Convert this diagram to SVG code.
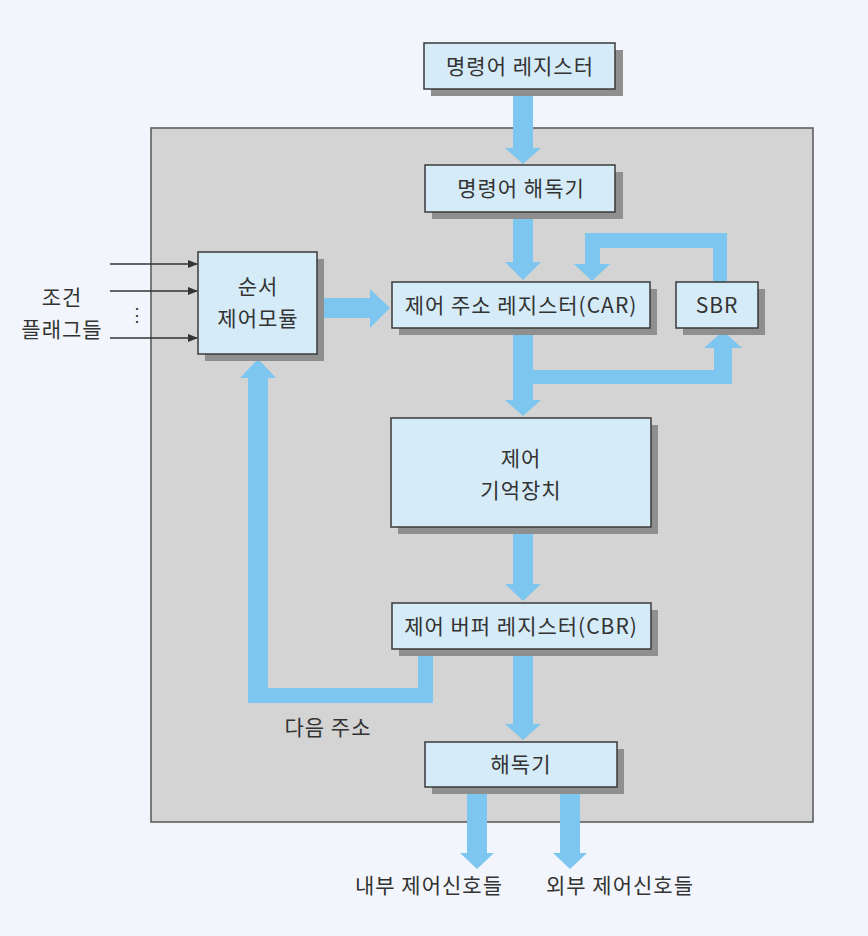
<svg xmlns="http://www.w3.org/2000/svg" width="868" height="936" viewBox="0 0 868 936">
<defs>
<style>
.box{fill:#d5ebf8;stroke:#3a3a3a;stroke-width:1.5}
.sh{fill:#8f8f8f}
.t{font-family:"Noto Sans CJK KR","Noto Sans",sans-serif;font-size:21px;letter-spacing:1px;fill:#333;text-anchor:middle}
.fl{fill:#7cc6ef}
.in{stroke:#333;stroke-width:1.5;fill:none}
</style>
<marker id="ah" markerWidth="10" markerHeight="8" refX="9" refY="4" orient="auto" markerUnits="userSpaceOnUse">
<path d="M0,0 L10,4 L0,8 Z" fill="#333"/>
</marker>
</defs>
<rect width="868" height="936" fill="#f2f6fc"/>
<rect x="151" y="128" width="662" height="694" fill="#d4d4d4" stroke="#555" stroke-width="1.5"/>

<g id="connectors">
<path class="fl" d="M513,95 H533 V148 H541 L523,164 L505,148 H513 Z"/>
<path class="fl" d="M513,215 H533 V262 H541 L523,280 L505,262 H513 Z"/>
<path class="fl" d="M713,282 V248 H600 V264 H610 L592,281 L574,264 H585 V233 H727 V282 Z"/>
<path class="fl" d="M513,331 H533 V400 H541 L523,416 L505,400 H513 Z"/>
<path class="fl" d="M533,370 H714 V348 H704 L723,331 L742,348 H732 V384 H533 Z"/>
<path class="fl" d="M320,298 H370 V289 L390,308 L370,328 V318 H320 Z"/>
<path class="fl" d="M513,530 H533 V584 H541 L523,601 L505,584 H513 Z"/>
<path class="fl" d="M513,652 H533 V724 H541 L523,740 L505,724 H513 Z"/>
<path class="fl" d="M418,655 H433 V703 H248 V378 H240 L258,359 L276,378 H268 V688 H418 Z"/>
<path class="fl" d="M467,790 H487 V853 H494 L477,869 L460,853 H467 Z"/>
<path class="fl" d="M560,790 H580 V853 H587 L570,869 L553,853 H560 Z"/>
<line class="in" x1="110" y1="264" x2="197" y2="264" marker-end="url(#ah)"/>
<line class="in" x1="110" y1="291" x2="197" y2="291" marker-end="url(#ah)"/>
<line class="in" x1="110" y1="338" x2="197" y2="338" marker-end="url(#ah)"/>
</g>

<g id="ir"><rect class="sh" x="431" y="50" width="192" height="46"/><rect class="box" x="424" y="43" width="191" height="46"/><text class="t" x="520" y="74">명령어 레지스터</text></g>
<g id="id"><rect class="sh" x="432" y="172" width="191" height="47"/><rect class="box" x="425" y="165" width="190" height="47"/><text class="t" x="521" y="196">명령어 해독기</text></g>
<g id="seq"><rect class="sh" x="205" y="259" width="119" height="102"/><rect class="box" x="198" y="252" width="119" height="102"/><text class="t" x="258" y="294">순서</text><text class="t" x="258" y="326">제어모듈</text></g>
<g id="car"><rect class="sh" x="399" y="289" width="258" height="46"/><rect class="box" x="392" y="282" width="258" height="46"/><text class="t" x="521" y="313">제어 주소 레지스터(CAR)</text></g>
<g id="sbr"><rect class="sh" x="683" y="289" width="82" height="46"/><rect class="box" x="676" y="282" width="82" height="46"/><text class="t" x="717" y="313">SBR</text></g>
<g id="mem"><rect class="sh" x="398" y="425" width="260" height="109"/><rect class="box" x="391" y="418" width="260" height="109"/><text class="t" x="521" y="466">제어</text><text class="t" x="521" y="498">기억장치</text></g>
<g id="cbr"><rect class="sh" x="399" y="610" width="259" height="46"/><rect class="box" x="392" y="603" width="259" height="46"/><text class="t" x="521" y="634">제어 버퍼 레지스터(CBR)</text></g>
<g id="dec"><rect class="sh" x="432" y="749" width="192" height="45"/><rect class="box" x="425" y="742" width="192" height="45"/><text class="t" x="521" y="772">해독기</text></g>

<g id="labels">
<text class="t" x="62" y="305">조건</text>
<text class="t" x="62" y="337">플래그들</text>
<text class="t" x="137" y="321" style="font-size:18px;letter-spacing:0">⋮</text>
<text class="t" x="328" y="735">다음 주소</text>
<text class="t" x="429" y="893">내부 제어신호들</text>
<text class="t" x="620" y="893">외부 제어신호들</text>
</g>
</svg>
